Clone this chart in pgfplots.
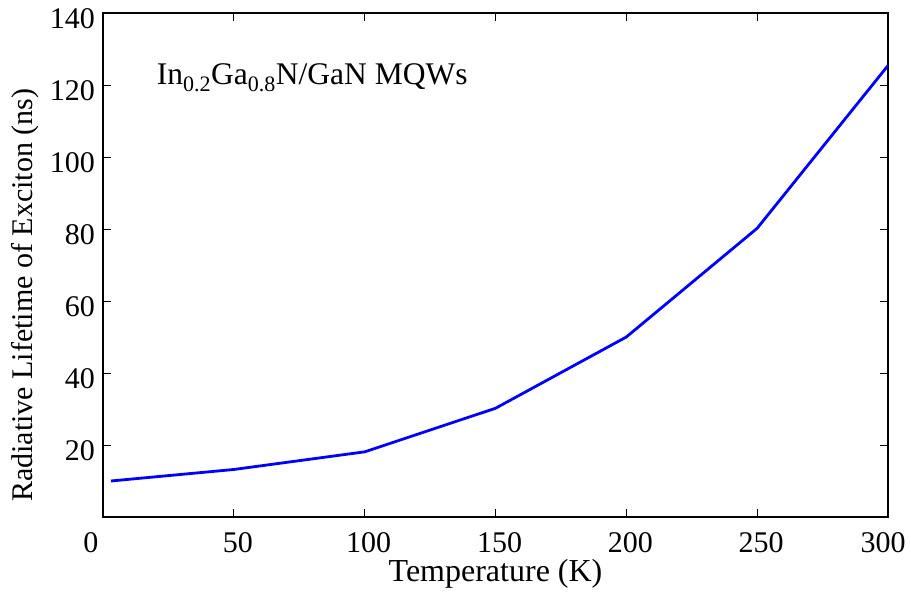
\documentclass[border=0pt]{standalone}
\usepackage{pgfplots}
\pgfplotsset{compat=1.18}
\usepackage{fontspec}
\setmainfont{Liberation Serif}
\begin{document}
\fontsize{30}{36}\selectfont
\begin{tikzpicture}
\begin{axis}[
  scale only axis,
  width=785pt,
  height=504pt,
  xmin=0, xmax=300,
  ymin=0, ymax=140,
  xtick={50,100,...,300},
  xticklabels={50,100,150,200,250,{\makebox[0pt]{\hspace*{-18pt}300}}},
  ytick={20,40,...,140},
  extra x ticks={0},
  extra x tick labels={0},
  extra x tick style={major tick length=0pt, xticklabel style={xshift=-16pt}},
  tick align=inside,
  major tick length=8pt,
  axis line style={line width=1.4pt},
  tick style={line width=0.9pt, black},
  /pgf/number format/assume math mode=true,
  tick label style={font=\fontsize{30}{36}\selectfont},
  xticklabel style={yshift=-5pt, xshift=4pt},
  yticklabel style={yshift=-6pt, xshift=2pt},
  xlabel={Temperature (K)},
  ylabel={Radiative Lifetime of Exciton (ns)},
  xlabel style={font=\fontsize{32}{38}\selectfont, at={(axis description cs:0.5,-0.112)}, anchor=center},
  ylabel style={font=\fontsize{30}{36}\selectfont, at={(axis description cs:-0.0994,0.440)}, anchor=center},
]
  \addplot[color=blue, line width=2.8pt] coordinates {
    (3,10) (50,13.2) (100,18.1) (150,30.2) (200,50) (250,80.2) (300,125.4)
  };
  \node[anchor=base west, inner sep=0pt, font=\fontsize{31.5}{37}\selectfont] at (axis cs:20.5,120)
    {In\textsubscript{0.2}Ga\textsubscript{0.8}N/GaN MQWs};
\end{axis}
\pgfresetboundingbox
\path[use as bounding box] ([shift={(-103pt,-84pt)}]current axis.south west)
  rectangle ([shift={(23pt,13pt)}]current axis.north east);
\end{tikzpicture}
\end{document}
